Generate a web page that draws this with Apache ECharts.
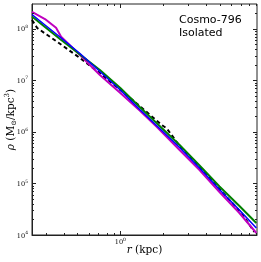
<!DOCTYPE html>
<html>
<head>
<meta charset="utf-8">
<script src="https://cdn.jsdelivr.net/npm/echarts@6/dist/echarts.min.js"></script>
<style>html,body{margin:0;padding:0;background:#fff}#c{width:261px;height:262px}</style>
</head>
<body>
<div id="c"></div>
<script>
// Data: r in kpc, rho in Msun/kpc^3
const greenR   = [0.240, 0.296, 0.377, 0.521, 0.719, 1.0, 1.368, 1.888, 2.606, 3.596, 4.964, 6.85, 9.0];
const greenRho = [1.714e8, 1.074e8, 6.28e7, 3.15e7, 1.578e7, 7.06e6, 3.03e6, 1.294e6, 5.55e5, 2.22e5, 8.71e4, 3.65e4, 1.71e4];

const blueR   = [0.240, 0.296, 0.377, 0.521, 0.719, 1.0, 1.368, 1.888, 2.606, 3.596, 4.964, 6.85, 9.0];
const blueRho = [1.875e8, 1.175e8, 6.87e7, 3.29e7, 1.476e7, 6.46e6, 2.70e6, 1.159e6, 4.97e5, 1.986e5, 7.62e4, 3.05e4, 1.368e4];

const magentaR   = [0.240, 0.296, 0.354, 0.384, 0.521, 0.719, 1.0, 1.368, 1.800, 2.606, 3.596, 4.964, 6.85, 9.0];
const magentaRho = [2.10e8, 1.535e8, 1.040e8, 6.97e7, 3.08e7, 1.262e7, 5.65e6, 2.59e6, 1.256e6, 4.44e5, 1.820e5, 6.81e4, 2.67e4, 1.094e4];

const blackR   = [0.240, 0.261, 0.377, 0.521, 0.719, 1.0, 1.368, 1.951, 2.115, 2.606, 3.596, 4.964, 7.07, 8.72];
const blackRho = [1.469e8, 1.028e8, 5.09e7, 2.69e7, 1.361e7, 6.46e6, 3.16e6, 1.355e6, 1.169e6, 5.31e5, 2.08e5, 7.78e4, 2.67e4, 1.143e4];

// Axis extents and ticks
const xMin = 0.24, xMax = 9.1;
const yMin = 1e4, yMax = 3e8;
const xMajorTicks = [1];
const xMinorTicks = [0.3, 0.4, 0.5, 0.6, 0.7, 0.8, 0.9, 2, 3, 4, 5, 6, 7, 8, 9];
const yMajorTicks = [1e4, 1e5, 1e6, 1e7, 1e8];
const yMinorMult = [2, 3, 4, 5, 6, 7, 8, 9];

const annotation = 'Cosmo-796\nIsolated';

const zip = (a, b) => a.map((v, i) => [v, b[i]]);

const tickData = [];
xMajorTicks.forEach(v => tickData.push([v, 1e6, 0, 4]));
xMinorTicks.forEach(v => { if (v > xMin && v < xMax) tickData.push([v, 1e6, 0, 2]); });
yMajorTicks.forEach(v => tickData.push([1, v, 1, 4]));
yMajorTicks.forEach(d => yMinorMult.forEach(m => { const v = d * m; if (v > yMin && v < yMax) tickData.push([1, v, 1, 2]); }));

const isPow10 = v => Math.abs(Math.log10(v) - Math.round(Math.log10(v))) < 1e-6;
const powLabel = v => isPow10(v) ? '{b|10}{s|' + Math.round(Math.log10(v)) + '}' : '';
const tickRich = {
  b: {fontSize: 6.5, fontFamily: 'DejaVu Serif', color: '#000', verticalAlign: 'bottom', lineHeight: 9},
  s: {fontSize: 4.5, fontFamily: 'DejaVu Serif', color: '#000', verticalAlign: 'top', lineHeight: 9}
};

const chart = echarts.init(document.getElementById('c'), null, {renderer: 'canvas'});
chart.setOption({
  animation: false,
  backgroundColor: '#fff',
  grid: {left: 32, right: 4, top: 4, bottom: 27, containLabel: false, outerBoundsMode: 'none',
         show: true, borderColor: '#222', borderWidth: 1, backgroundColor: 'transparent'},
  xAxis: {
    type: 'log', logBase: 10, min: xMin, max: xMax,
    axisLine: {show: true, lineStyle: {color: '#222', width: 1}},
    axisTick: {show: false}, splitLine: {show: false}, minorTick: {show: false},
    axisLabel: {formatter: powLabel, rich: tickRich, margin: 2, showMinLabel: false, showMaxLabel: false},
    name: '{i|r} (kpc)', nameLocation: 'middle', nameGap: 10, nameMoveOverlap: false,
    nameTextStyle: {fontFamily: 'DejaVu Serif', fontSize: 10.5, color: '#000',
      rich: {i: {fontFamily: 'DejaVu Serif', fontStyle: 'italic', fontSize: 10.5, color: '#000'}}}
  },
  yAxis: {
    type: 'log', logBase: 10, min: yMin, max: yMax,
    axisLine: {show: true, lineStyle: {color: '#222', width: 1}},
    axisTick: {show: false}, splitLine: {show: false}, minorTick: {show: false},
    axisLabel: {formatter: powLabel, rich: tickRich, margin: 4, showMaxLabel: false},
    name: '{i|ρ} (M{sub|⊙}/kpc{sup|3})', nameLocation: 'middle', nameGap: 14, nameRotate: 90, nameMoveOverlap: false,
    nameTextStyle: {fontFamily: 'DejaVu Serif', fontSize: 10.5, color: '#000',
      rich: {
        i: {fontFamily: 'DejaVu Serif', fontStyle: 'italic', fontSize: 10.5, color: '#000'},
        sub: {fontFamily: 'DejaVu Serif', fontSize: 7, color: '#000', verticalAlign: 'bottom', lineHeight: 14},
        sup: {fontFamily: 'DejaVu Serif', fontSize: 7, color: '#000', verticalAlign: 'top', lineHeight: 14}
      }}
  },
  graphic: [{
    type: 'text', left: 179, top: 14,
    style: {text: annotation, font: '11px "DejaVu Sans"', fill: '#000', lineHeight: 12.5}
  }],
  series: [
    {type: 'line', data: zip(blackR, blackRho), showSymbol: false, clip: true, z: 2,
     lineStyle: {color: '#000', width: 2, type: [4, 3]}},
    {type: 'line', data: zip(magentaR, magentaRho), showSymbol: false, clip: true, z: 3,
     lineStyle: {color: '#bf00bf', width: 2}},
    {type: 'line', data: zip(greenR, greenRho), showSymbol: false, clip: true, z: 3,
     lineStyle: {color: '#008000', width: 2}},
    {type: 'line', data: zip(blueR, blueRho), showSymbol: false, clip: true, z: 4,
     lineStyle: {color: '#0000ff', width: 1.5}},
    {type: 'custom', data: tickData, clip: false, z: 10, silent: true,
     renderItem: function (params, api) {
       const cs = params.coordSys;
       const kind = api.value(2), len = api.value(3);
       const st = {stroke: '#222', lineWidth: 1};
       if (kind === 0) {
         const px = Math.round(api.coord([api.value(0), 1e6])[0]) + 0.5;
         const yb = cs.y + cs.height, yt = cs.y;
         return {type: 'group', children: [
           {type: 'line', shape: {x1: px, y1: yb, x2: px, y2: yb - len}, style: st},
           {type: 'line', shape: {x1: px, y1: yt, x2: px, y2: yt + len}, style: st}
         ]};
       } else {
         const py = Math.round(api.coord([1, api.value(1)])[1]) + 0.5;
         const xl = cs.x, xr = cs.x + cs.width;
         return {type: 'group', children: [
           {type: 'line', shape: {x1: xl, y1: py, x2: xl + len, y2: py}, style: st},
           {type: 'line', shape: {x1: xr, y1: py, x2: xr - len, y2: py}, style: st}
         ]};
       }
     }}
  ]
});
</script>
</body>
</html>
